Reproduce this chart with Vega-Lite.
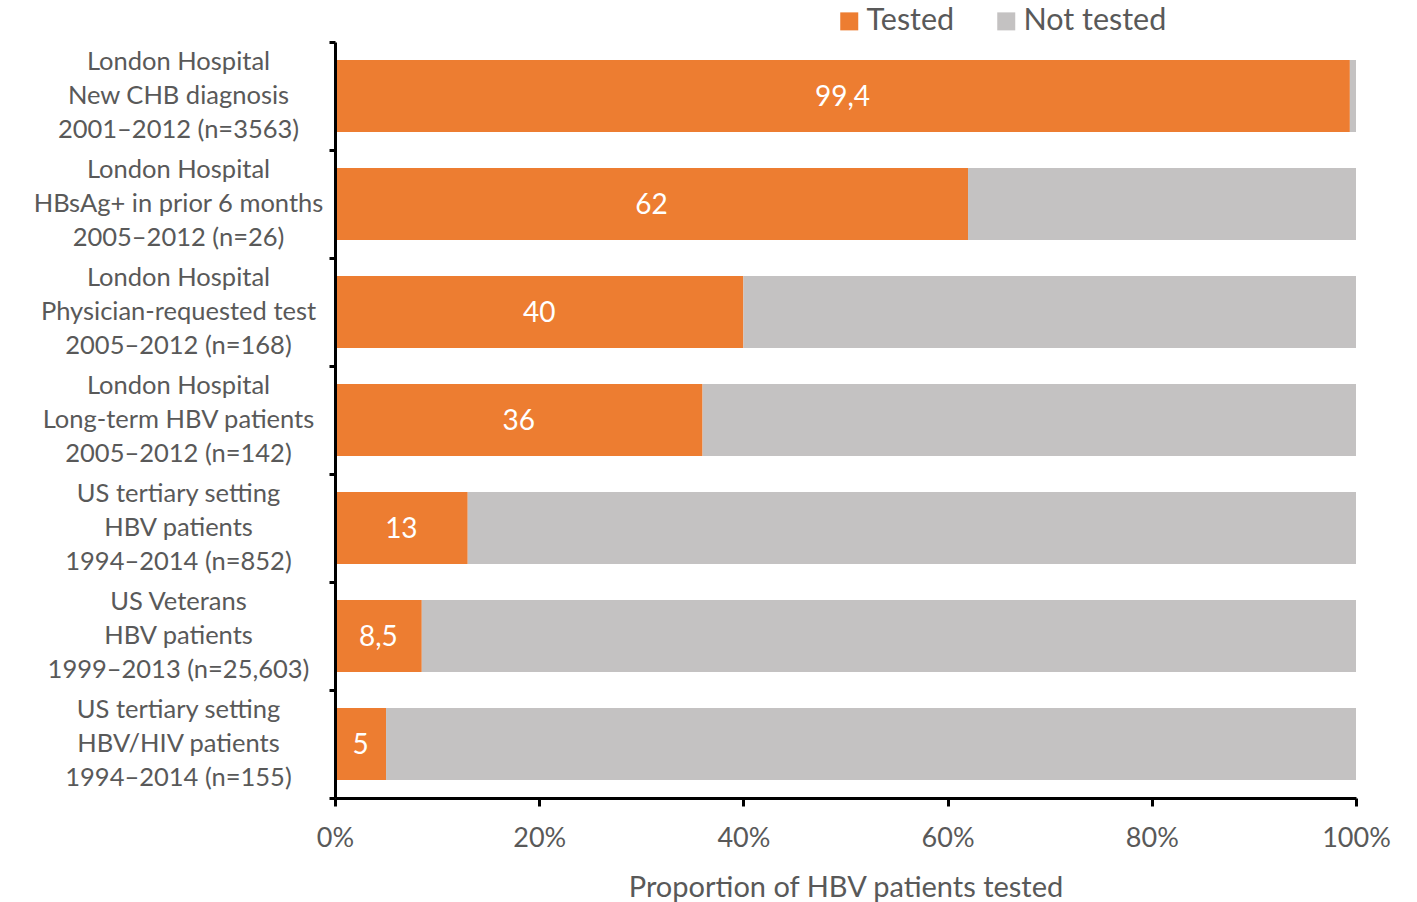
{
  "$schema": "https://vega.github.io/schema/vega-lite/v6.json",
  "width": 1021,
  "height": 756,
  "autosize": {"type": "none"},
  "padding": {"left": 335, "top": 42, "right": 61, "bottom": 104},
  "background": "white",
  "config": {
    "view": {"stroke": null},
    "font": "Lato",
    "locale": {"number": {"decimal": ",", "thousands": ".", "grouping": [3], "currency": ["", ""]}}
  },
  "data": {
    "values": [
      {"group": "London Hospital|New CHB diagnosis|2001–2012 (n=3563)", "status": "Tested", "k": 1, "value": 99.4},
      {"group": "London Hospital|New CHB diagnosis|2001–2012 (n=3563)", "status": "Not tested", "k": 2, "value": 0.6},
      {"group": "London Hospital|HBsAg+ in prior 6 months|2005–2012 (n=26)", "status": "Tested", "k": 1, "value": 62},
      {"group": "London Hospital|HBsAg+ in prior 6 months|2005–2012 (n=26)", "status": "Not tested", "k": 2, "value": 38},
      {"group": "London Hospital|Physician-requested test|2005–2012 (n=168)", "status": "Tested", "k": 1, "value": 40},
      {"group": "London Hospital|Physician-requested test|2005–2012 (n=168)", "status": "Not tested", "k": 2, "value": 60},
      {"group": "London Hospital|Long-term HBV patients|2005–2012 (n=142)", "status": "Tested", "k": 1, "value": 36},
      {"group": "London Hospital|Long-term HBV patients|2005–2012 (n=142)", "status": "Not tested", "k": 2, "value": 64},
      {"group": "US tertiary setting|HBV patients|1994–2014 (n=852)", "status": "Tested", "k": 1, "value": 13},
      {"group": "US tertiary setting|HBV patients|1994–2014 (n=852)", "status": "Not tested", "k": 2, "value": 87},
      {"group": "US Veterans|HBV patients|1999–2013 (n=25,603)", "status": "Tested", "k": 1, "value": 8.5},
      {"group": "US Veterans|HBV patients|1999–2013 (n=25,603)", "status": "Not tested", "k": 2, "value": 91.5},
      {"group": "US tertiary setting|HBV/HIV patients|1994–2014 (n=155)", "status": "Tested", "k": 1, "value": 5},
      {"group": "US tertiary setting|HBV/HIV patients|1994–2014 (n=155)", "status": "Not tested", "k": 2, "value": 95}
    ]
  },
  "layer": [
    {
      "mark": {"type": "bar", "height": {"band": 0.667}},
      "encoding": {
        "y": {
          "field": "group", "type": "nominal", "sort": null,
          "scale": {"paddingInner": 0, "paddingOuter": 0},
          "axis": {
            "title": null,
            "zindex": 1,
            "labelExpr": "split(datum.label, '|')",
            "labelAlign": "center",
            "labelBaseline": "middle",
            "labelPadding": 151,
            "labelOffset": -35,
            "labelLimit": 500,
            "labelFontSize": 25.5,
            "labelColor": "#595959",
            "labelLineHeight": 34,
            "tickSize": 6,
            "tickBand": "extent",
            "tickWidth": 3,
            "tickColor": "black",
            "domainColor": "black",
            "domainWidth": 3,
            "grid": false
          }
        },
        "x": {
          "field": "value", "type": "quantitative", "stack": "zero",
          "scale": {"domain": [0, 100], "nice": false},
          "axis": {
            "title": "Proportion of HBV patients tested",
            "zindex": 1,
            "values": [0, 20, 40, 60, 80, 100],
            "labelExpr": "datum.value + '%'",
            "tickSize": 8,
            "tickWidth": 3,
            "tickColor": "black",
            "domainColor": "black",
            "domainWidth": 3,
            "labelFontSize": 27,
            "labelColor": "#595959",
            "labelPadding": 19,
            "labelFlush": false,
            "titleFontSize": 29,
            "titleColor": "#595959",
            "titleFontWeight": "normal",
            "titlePadding": 22,
            "grid": false
          }
        },
        "color": {
          "field": "status", "type": "nominal",
          "scale": {"domain": ["Tested", "Not tested"], "range": ["#ED7D31", "#C4C2C2"]},
          "legend": {
            "orient": "none",
            "legendX": 499,
            "legendY": -36,
            "direction": "horizontal",
            "title": null,
            "symbolType": "square",
            "symbolSize": 324,
            "symbolStrokeWidth": 0,
            "labelFontSize": 30.5,
            "labelColor": "#595959",
            "labelOffset": 2,
            "columnPadding": 36
          }
        },
        "order": {"field": "k", "type": "quantitative"}
      }
    },
    {
      "transform": [{"filter": "datum.status == 'Tested'"}],
      "mark": {"type": "text", "color": "white", "fontSize": 28, "align": "center", "baseline": "middle", "dy": 2},
      "encoding": {
        "y": {"field": "group", "type": "nominal", "sort": null},
        "x": {"field": "value", "type": "quantitative", "scale": {"domain": [0, 200], "nice": false}, "axis": null},
        "text": {"field": "value", "type": "quantitative", "format": "~g"}
      }
    }
  ],
  "resolve": {"scale": {"x": "independent"}}
}
